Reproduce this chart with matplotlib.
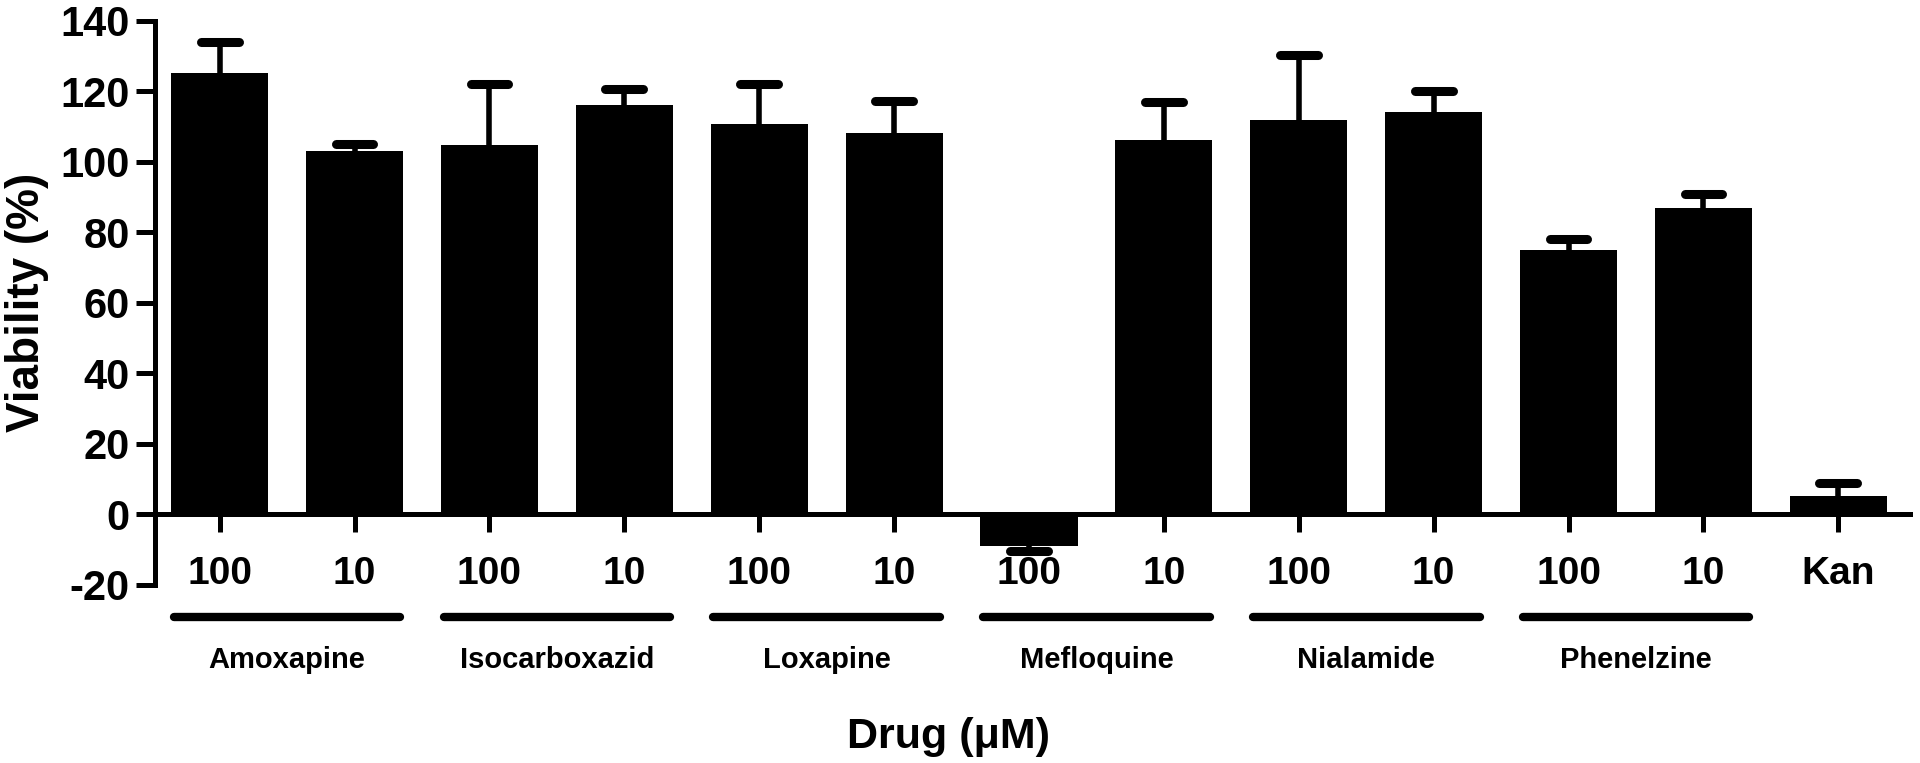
import numpy as np
import matplotlib
matplotlib.use("Agg")
import matplotlib.pyplot as plt
import matplotlib.transforms as mtransforms

plt.rcParams["axes.unicode_minus"] = False

# data
dose_labels = ["100", "10", "100", "10", "100", "10", "100", "10",
               "100", "10", "100", "10", "Kan"]
viability = [125.3, 103.0, 104.9, 116.0, 110.8, 108.3, -9.0, 106.3,
             111.8, 114.2, 75.0, 86.8, 5.2]
sem = [8.7, 2.2, 17.3, 4.8, 11.4, 9.1, 1.5, 10.7, 18.4, 5.9, 3.1, 4.2, 3.8]
drugs = ["Amoxapine", "Isocarboxazid", "Loxapine", "Mefloquine",
         "Nialamide", "Phenelzine"]

fig = plt.figure(figsize=(19.2, 7.63), dpi=100)
ax = fig.add_axes([0.0807, 0.2333, 0.914, 0.7394])

x = np.arange(len(viability))
v = np.array(viability)
e = np.array(sem)
ax.bar(x, v, width=0.72, color="black", zorder=3)
# whiskers behind the bars -> only the outer half shows
ax.errorbar(x, v, yerr=e, fmt="none", ecolor="black", elinewidth=4,
            capsize=0, zorder=2)
cap_y = v + np.sign(v) * e
ax.hlines(cap_y, x - 0.14, x + 0.14, colors="black", lw=6.5,
          capstyle="round", zorder=2)

ax.set_xlim(-0.48, 12.53)
ax.set_ylim(-20, 140)
ax.set_yticks(np.arange(-20, 141, 20))
ax.set_xticks(x)
ax.set_xticklabels(dose_labels)

for s in ["top", "right"]:
    ax.spines[s].set_visible(False)
ax.spines["bottom"].set_position(("data", 0))
ax.spines["left"].set_linewidth(3.6)
ax.spines["bottom"].set_linewidth(3.6)
ax.tick_params(axis="x", direction="out", length=13, width=3.6, pad=17)
ax.tick_params(axis="y", direction="out", length=14, width=3.6, pad=4)

for lab in ax.get_xticklabels():
    lab.set_fontsize(28)
    lab.set_fontweight("bold")
    lab.set_family("Liberation Sans")
for lab in ax.get_yticklabels():
    lab.set_fontsize(30)
    lab.set_fontweight("bold")
    lab.set_family("Liberation Sans")

# group lines and drug names under the dose labels
trans = mtransforms.blended_transform_factory(ax.transData, ax.transAxes)
for i, name in enumerate(drugs):
    c = 2 * i + 0.5
    ax.plot([c - 0.84, c + 0.84], [-0.057, -0.057], color="black", lw=6,
            solid_capstyle="round", transform=trans, clip_on=False)
    ax.text(c, -0.133, name, transform=trans, ha="center", va="center",
            fontsize=21, fontweight="bold", family="Liberation Sans")

fig.text(0.494, 0.034, "Drug (\u03bcM)", ha="center", va="center",
         fontsize=31, fontweight="bold", family="Liberation Sans")
fig.text(0.014, 0.604, "Viability (%)", ha="center", va="center",
         rotation=90, fontsize=33, fontweight="bold", family="Liberation Sans")

fig.savefig("out.png", dpi=100)
